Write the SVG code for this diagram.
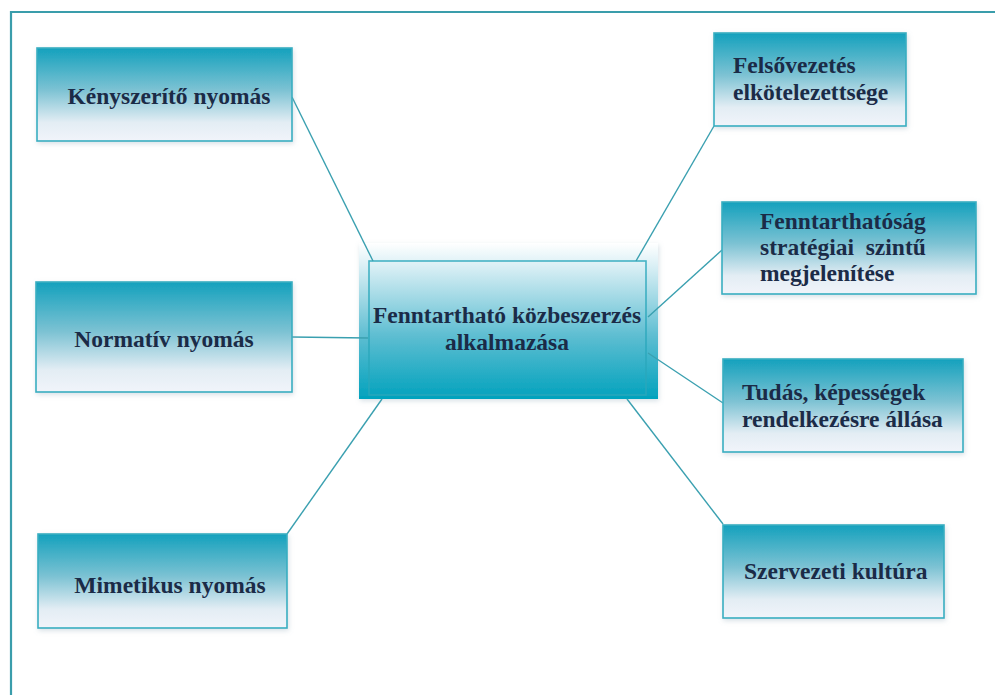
<svg xmlns="http://www.w3.org/2000/svg" width="995" height="695" viewBox="0 0 995 695">
  <defs>
    <linearGradient id="boxGrad" x1="0" y1="0" x2="0" y2="1">
      <stop offset="0" stop-color="#14a1bd"/>
      <stop offset="0.45" stop-color="#7cc2d3"/>
      <stop offset="0.8" stop-color="#e3edf4"/>
      <stop offset="1" stop-color="#f1f4fa"/>
    </linearGradient>
    <linearGradient id="centerGrad" x1="0" y1="0" x2="0" y2="1">
      <stop offset="0" stop-color="#ffffff"/>
      <stop offset="0.15" stop-color="#d9eff5"/>
      <stop offset="0.6" stop-color="#5cbdd1"/>
      <stop offset="1" stop-color="#02a2bd"/>
    </linearGradient>
    <filter id="shadow" x="-10%" y="-10%" width="120%" height="130%">
      <feDropShadow dx="1" dy="2" stdDeviation="2.5" flood-color="#8fa9b8" flood-opacity="0.35"/>
    </filter>
  </defs>
  <style>
    .box { fill: url(#boxGrad); stroke: #38aec1; stroke-width: 1.6; filter: url(#shadow); }
    .lbl { font-family: "Liberation Serif", "Times New Roman", serif; font-weight: bold; font-size: 23.5px; fill: #1b2b47; }
    .mid { text-anchor: middle; }
    .conn line { stroke: #3aa0b0; stroke-width: 1.4; fill: none; }
    .frame { stroke: #3a9dab; stroke-width: 2.2; fill: none; }
  </style>

  <rect width="995" height="695" fill="#ffffff"/>
  <path class="frame" d="M11,700 L11,12 L1000,12"/>

  <g id="center">
    <rect x="359" y="243" width="299" height="156" fill="url(#centerGrad)" filter="url(#shadow)"/>
    <rect x="369" y="261" width="277" height="134" fill="none" stroke="#2aa7bb" stroke-width="1.6" stroke-opacity="0.85"/>
    <text class="lbl mid" x="507" y="323">Fenntartható közbeszerzés</text>
    <text class="lbl mid" x="507" y="350">alkalmazása</text>
  </g>

  <g id="connectors" class="conn">
    <line x1="292" y1="97" x2="373" y2="261"/>
    <line x1="292" y1="337" x2="368" y2="338"/>
    <line x1="287" y1="534" x2="382" y2="399"/>
    <line x1="714" y1="126" x2="636" y2="261"/>
    <line x1="722" y1="250" x2="648" y2="317"/>
    <line x1="648" y1="353" x2="723" y2="403"/>
    <line x1="627" y1="399" x2="723" y2="524"/>
  </g>

  <g id="kenyszerito">
    <rect class="box" x="37" y="48" width="255" height="93"/>
    <text class="lbl mid" x="169" y="104">Kényszerítő nyomás</text>
  </g>

  <g id="normativ">
    <rect class="box" x="36" y="282" width="256" height="110"/>
    <text class="lbl mid" x="164" y="347">Normatív nyomás</text>
  </g>

  <g id="mimetikus">
    <rect class="box" x="38" y="534" width="249" height="94"/>
    <text class="lbl mid" x="170" y="593">Mimetikus nyomás</text>
  </g>

  <g id="felsovezetes">
    <rect class="box" x="714" y="33" width="192" height="93"/>
    <text class="lbl" x="733" y="73">Felsővezetés</text>
    <text class="lbl" x="733" y="100">elkötelezettsége</text>
  </g>

  <g id="fenntarthatosag">
    <rect class="box" x="722" y="202" width="254" height="92"/>
    <text class="lbl" x="760" y="229">Fenntarthatóság</text>
    <text class="lbl" x="760" y="255" xml:space="preserve">stratégiai  szintű</text>
    <text class="lbl" x="760" y="281">megjelenítése</text>
  </g>

  <g id="tudas">
    <rect class="box" x="723" y="359" width="240" height="93"/>
    <text class="lbl" x="742" y="400">Tudás, képességek</text>
    <text class="lbl" x="742" y="427">rendelkezésre állása</text>
  </g>

  <g id="szervezeti">
    <rect class="box" x="723" y="525" width="221" height="93"/>
    <text class="lbl" x="744" y="579">Szervezeti kultúra</text>
  </g>
</svg>
